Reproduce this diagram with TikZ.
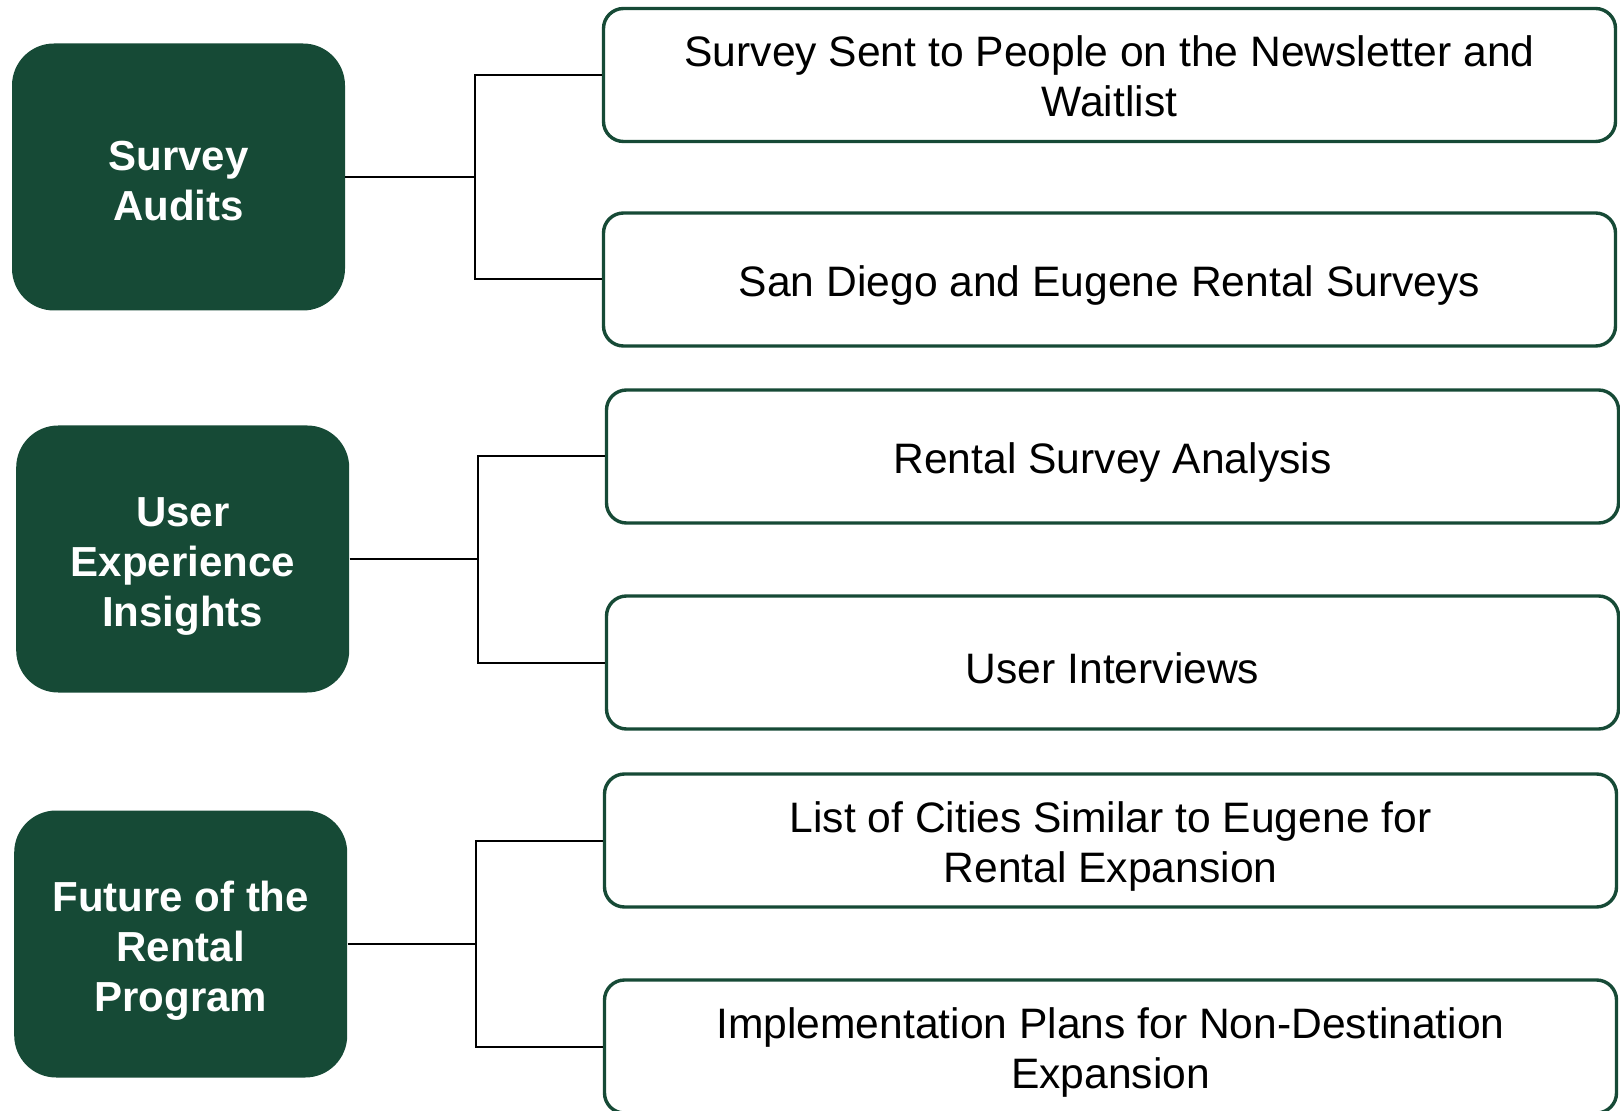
\documentclass[tikz,border=0pt]{standalone}
\usepackage{fontspec}
\setmainfont{Liberation Sans}
\usetikzlibrary{positioning}
\definecolor{forest}{HTML}{164A36}
% strut on the first line, sets how low the text sits in its box
\newcommand{\lift}[1]{\rule{0pt}{#1}}
\tikzstyle{topic} = [fill=forest,rounded corners=21pt,minimum width=166.5pt,minimum height=133.5pt,inner sep=0pt,text=white,align=center,font=\fontsize{21}{25}\selectfont\bfseries]
\tikzstyle{item} = [draw=forest,line width=1.7pt,fill=white,rounded corners=10pt,minimum width=506pt,minimum height=66.5pt,inner sep=0pt,align=center,font=\fontsize{21.3}{25}\selectfont]
\tikzstyle{link} = [draw=black,line width=1pt]

\begin{document}
\begin{tikzpicture}[x=0.5pt,y=-0.5pt]
\useasboundingbox (0,0) rectangle (1620,1111);
%%% Topic boxes on the left
\node[topic] (topic1) at (178.5,177) {\lift{18.8pt}Survey\\Audits};
\node[topic] (topic2) at (182.7,559) {\lift{21.8pt}User\\Experience\\Insights};
\node[topic] (topic3) at (180.7,944) {\lift{21.8pt}Future of the\\Rental\\Program};
%%% Item boxes on the right
\node[item] (item1) at (1109.5,75) {\lift{16.6pt}Survey Sent to People on the Newsletter and\\Waitlist};
\node[item] (item2) at (1109.5,279.5) {\lift{21.6pt}San Diego and Eugene Rental Surveys};
\node[item] (item3) at (1112.5,456.5) {\lift{21.6pt}Rental Survey Analysis};
\node[item] (item4) at (1112.5,662.5) {\lift{21.6pt}User Interviews};
\node[item] (item5) at (1110.5,840.5) {\lift{21.8pt}List of Cities Similar to Eugene for\\Rental Expansion};
\node[item] (item6) at (1110.5,1046.5) {\lift{21.8pt}Implementation Plans for Non-Destination\\Expansion};
%%% Links from each topic to its two items
\foreach \t/\a/\b in {1/1/2,2/3/4,3/5/6} {
    \path (topic\t.east -| item\a.west) ++(-127,0) coordinate (fork\t);
    \draw[link] (topic\t.east) -- (fork\t);
    \draw[link] (item\a.west) -| (fork\t) |- (item\b.west);
}
\end{tikzpicture}
\end{document}
